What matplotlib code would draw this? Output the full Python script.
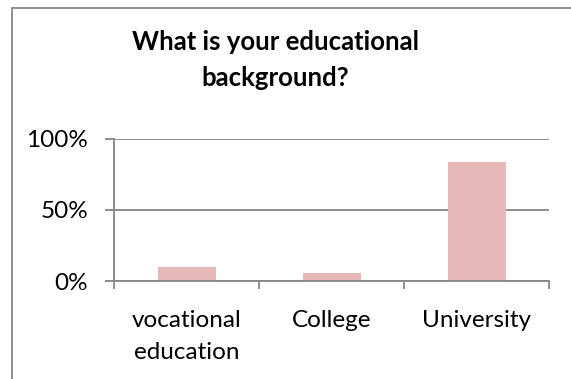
import numpy as np
import matplotlib.pyplot as plt
from matplotlib.patches import Rectangle
from matplotlib.ticker import PercentFormatter

# survey answers (share of respondents)
categories = ["vocational\neducation", "College", "University"]
shares = [0.096, 0.054, 0.84]
yticks = [0, 0.5, 1.0]

grey = "#868686"
bar_col = "#E6B9B8"

plt.rcParams['font.family'] = ['Lato', 'DejaVu Sans']

fig = plt.figure(figsize=(5.71, 3.79), dpi=100)

# outer chart frame (runs off the right and bottom of the picture)
fig.patches.append(Rectangle((12 / 571, -0.05), 1.2, 1 - 8 / 379 + 0.05,
                             transform=fig.transFigure, fill=False,
                             edgecolor=grey, linewidth=1.3))

ax = fig.add_axes([114 / 571, 98 / 379, 435 / 571, 142 / 379])
x = np.arange(len(categories))
ax.bar(x, shares, width=0.4, color=bar_col, zorder=2)

ax.set_xlim(-0.5, 2.5)
ax.set_ylim(0, 1)
ax.set_yticks(yticks)
ax.yaxis.set_major_formatter(PercentFormatter(1.0, decimals=0))
ax.grid(axis='y', color=grey, linewidth=1.3, zorder=0)

ax.set_xticks(x)
ax.set_xticklabels(categories, fontsize=17.5, linespacing=1.65)
ax.set_xticks([-0.5, 0.5, 1.5, 2.5], minor=True)
ax.tick_params(axis='x', which='major', length=0, pad=21)
ax.tick_params(axis='x', which='minor', length=6, width=1.3, color=grey)
ax.tick_params(axis='y', length=6.5, width=1.3, color=grey, pad=12, labelsize=17.5)

for s in ['top', 'right']:
    ax.spines[s].set_visible(False)
for s in ['left', 'bottom']:
    ax.spines[s].set_color(grey)
    ax.spines[s].set_linewidth(1.3)

fig.text(275 / 571, 1 - 30 / 379, "What is your educational\nbackground?",
         ha='center', va='top', fontsize=18.5, fontweight='bold', linespacing=1.6)

fig.savefig("out.png", dpi=100)
